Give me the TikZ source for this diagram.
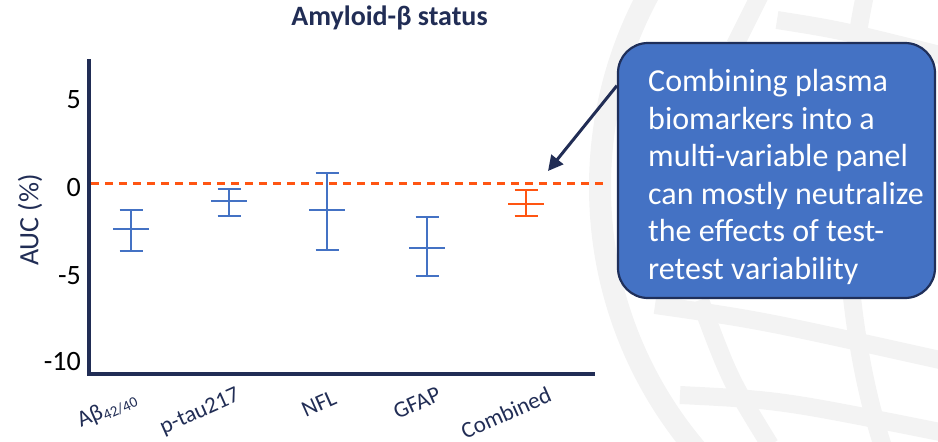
\documentclass[tikz,border=0pt]{standalone}
\usepackage{fontspec}
\setmainfont{Carlito}
\usetikzlibrary{arrows.meta}
\definecolor{navy}{HTML}{212D55}
\definecolor{barblue}{HTML}{4472C4}
\definecolor{barorange}{HTML}{FF5512}
\definecolor{callborder}{HTML}{1F2F5A}
\definecolor{wm}{HTML}{F3F3F3}
\newcommand{\myerrbar}[5]{%
  \draw[ebar,#1] (#2,#3) -- (#2,#5);
  \draw[ebar,#1] (#2-11.5,#3) -- (#2+11.5,#3);
  \draw[ebar,#1] (#2-11.5,#5) -- (#2+11.5,#5);
  \draw[ebar,#1] (#2-18,#4) -- (#2+18,#4);
}
\begin{document}
\begin{tikzpicture}[x=1pt,y=-1pt,
  wmband/.style={draw=wm, line width=18pt},
  axisline/.style={draw=navy, line width=4pt},
  ebar/.style={line width=2.8pt},
  ticklab/.style={anchor=east, inner sep=0pt, font=\fontsize{28}{30}\selectfont},
  catlab/.style={rotate=24, inner sep=0pt, text=navy, font=\fontsize{23}{25}\selectfont},
  calloutbox/.style={draw=callborder, line width=2.2pt, fill=barblue, rounded corners=30pt, minimum width=317pt, minimum height=255pt, inner sep=0pt},
  callouttext/.style={anchor=west, inner sep=0pt, align=left, text=white, font=\fontsize{32}{37.6}\selectfont},
  pointer/.style={draw=navy, line width=3pt, -{Triangle[length=15pt,width=15pt]}}
]
\useasboundingbox (0,0) rectangle (938,442);
% watermark
\begin{scope}
\clip (0,0) rectangle (938,442);
\draw[wmband, line width=22pt] (1006,187) circle [radius=406pt];
\draw[wmband] (1006,187) ellipse [x radius=160pt, y radius=406pt];
\draw[wmband] (777,20) .. controls (840,30) .. (940,55);
\draw[wmband] (655,305) .. controls (760,320) .. (940,360);
\draw[wmband] (680,395) .. controls (780,400) .. (940,432);
\draw[wmband] (700,300) .. controls (730,380) .. (770,445);
\draw[wmband] (760,-5) -- (735,45);
\end{scope}
% title
\node[text=navy, font=\bfseries\fontsize{28}{30}\selectfont] (title) at (389.5,18) {Amyloid-β status};
% axes
\draw[axisline] (89,59) -- (89,376);
\draw[axisline] (87,374) -- (595,374);
\node[ticklab] (t5) at (81,100) {5};
\node[ticklab] (t0) at (81,188) {0};
\node[ticklab] (tm5) at (81,276) {-5};
\node[ticklab] (tm10) at (81,362) {-10};
\node[rotate=90, text=navy, font=\fontsize{28}{30}\selectfont] (ylab) at (30,220) {AUC (\%)};
% zero line
\draw[barorange, line width=2.7pt, dash pattern=on 8pt off 6pt] (91,183.5) -- (608,183.5);
% error bars
\myerrbar{barblue}{131}{210}{229}{251}
\myerrbar{barblue}{229}{189}{201}{216}
\myerrbar{barblue}{327}{173}{210}{250}
\myerrbar{barblue}{427}{217}{248}{276}
\myerrbar{barorange}{526}{190}{204}{216}
% category labels
\node[catlab] (c1) at (107,410) {Aβ\raisebox{-0.3ex}{\fontsize{15}{15}\selectfont 42/40}};
\node[catlab] (c2) at (200,412) {p-tau217};
\node[catlab] (c3) at (319,404) {NFL};
\node[catlab] (c4) at (417,403) {GFAP};
\node[catlab] (c5) at (506,413) {Combined};
% callout
\node[calloutbox] (callout) at (776.5,170.5) {};
\node[callouttext] (calltext) at (648,177) {Combining plasma\\biomarkers into a\\multi-variable panel\\can mostly neutralize\\the effects of test-\\retest variability};
\coordinate (tip) at (548,171);
\draw[pointer] (callout.152.5) -- (tip);
\end{tikzpicture}
\end{document}
